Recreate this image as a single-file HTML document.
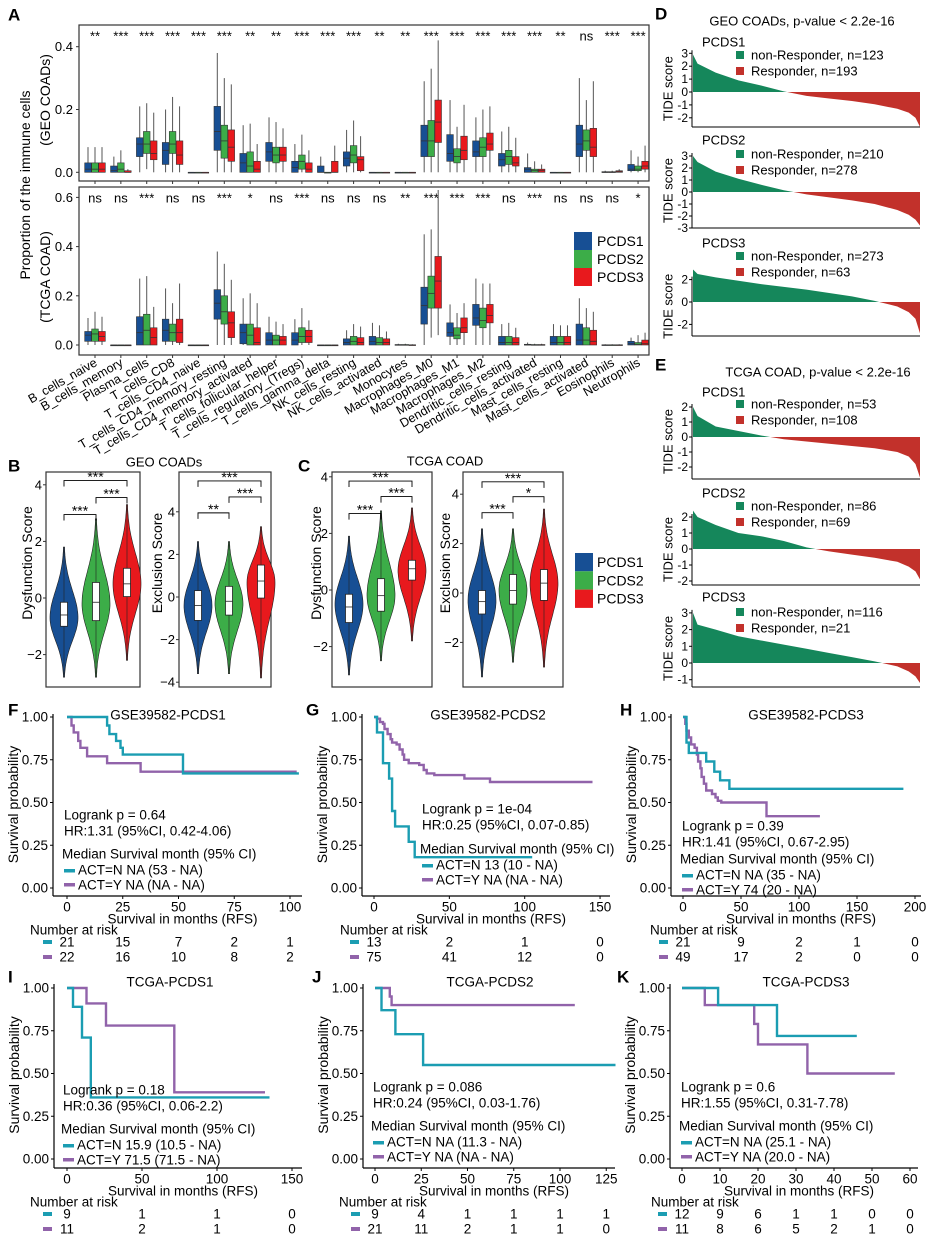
<!DOCTYPE html>
<html><head><meta charset="utf-8">
<style>
html,body{margin:0;padding:0;background:#fff;}
svg{display:block;font-family:"Liberation Sans",Arial,sans-serif;}
</style></head>
<body>
<svg id="fig" width="932" height="1238" viewBox="0 0 932 1238" xmlns="http://www.w3.org/2000/svg"></svg>
<script>
// ---------- Panel A data ----------
const cellTypes=["B_cells_naive","B_cells_memory","Plasma_cells","T_cells_CD8","T_cells_CD4_naive","T_cells_CD4_memory_resting","T_cells_CD4_memory_activated","T_cells_follicular_helper","T_cells_regulatory_(Tregs)","T_cells_gamma_delta","NK_cells_resting","NK_cells_activated","Monocytes","Macrophages_M0","Macrophages_M1","Macrophages_M2","Dendritic_cells_resting","Dendritic_cells_activated","Mast_cells_resting","Mast_cells_activated","Eosinophils","Neutrophils"];
const geoSig=["**","***","***","***","***","***","**","**","***","***","***","**","**","***","***","***","***","***","**","ns","***","***"];
const tcgaSig=["ns","ns","***","ns","ns","***","*","ns","***","ns","ns","ns","**","***","***","***","ns","***","ns","ns","ns","*"];
// [lower whisker, q1, median, q3, upper whisker]
const geoP1=[[0,0,.01,.03,.08],[0,0,.005,.02,.05],[0,.05,.09,.11,.21],[0,.025,.07,.095,.20],[0,0,0,0,0],[0,.07,.13,.21,.38],[0,0,.03,.06,.15],[0,.035,.065,.095,.175],[0,0,.015,.035,.09],[0,0,0,.02,.05],[0,.02,.045,.065,.135],[0,0,0,0,0],[0,0,0,0,0],[0,.05,.10,.15,.29],[0,.035,.06,.12,.23],[0,.05,.065,.10,.175],[0,.02,.04,.06,.13],[0,0,.01,.015,.06],[0,0,0,0,0],[0,.05,.09,.15,.30],[0,0,0,.002,.005],[0,.005,.01,.025,.07]];
const geoP2=[[0,0,.01,.03,.08],[0,0,.01,.03,.07],[.01,.06,.09,.13,.22],[0,.06,.09,.13,.24],[0,0,0,0,0],[0,.045,.10,.15,.30],[0,0,.02,.065,.155],[0,.03,.055,.08,.16],[0,.01,.035,.055,.12],[0,0,0,0,0],[0,.03,.055,.085,.165],[0,0,0,0,0],[0,0,0,0,0],[0,.05,.10,.165,.33],[0,.03,.05,.075,.145],[0,.05,.08,.11,.20],[0,.025,.05,.07,.145],[0,0,.005,.01,.035],[0,0,0,0,0],[0,.07,.10,.135,.23],[0,0,0,.002,.005],[0,.005,.01,.02,.05]];
const geoP3=[[0,0,.01,.03,.08],[0,0,0,.005,.01],[0,.04,.06,.10,.19],[0,.025,.055,.10,.21],[0,0,0,0,0],[0,.035,.08,.135,.28],[0,0,.01,.035,.09],[0,.035,.055,.08,.14],[0,0,.01,.03,.07],[0,0,0,.035,.085],[0,.005,.04,.05,.115],[0,0,0,0,0],[0,0,0,0,0],[0,.095,.16,.23,.42],[0,.04,.07,.115,.215],[0,.07,.09,.125,.21],[0,.02,.03,.05,.11],[0,0,.005,.01,.025],[0,0,0,0,0],[0,.05,.08,.14,.29],[0,0,.002,.005,.01],[0,.01,.02,.035,.085]];
const tcgaP1=[[0,.015,.04,.055,.11],[0,0,0,0,0],[0,0,.05,.115,.27],[0,.015,.06,.105,.23],[0,0,0,0,0],[0,.105,.17,.225,.38],[0,.005,.05,.085,.19],[0,0,.02,.05,.115],[0,0,.02,.05,.105],[0,0,0,0,0],[0,0,.01,.025,.06],[0,0,.015,.035,.09],[0,0,0,.002,.005],[0,.085,.16,.235,.45],[0,.035,.05,.09,.165],[0,.08,.11,.165,.27],[0,0,.01,.035,.085],[0,0,0,.003,.01],[0,0,.01,.035,.085],[0,0,.02,.085,.19],[0,0,0,.001,.003],[0,0,.005,.015,.03]];
const tcgaP2=[[0,.015,.045,.065,.135],[0,0,0,0,0],[0,0,.06,.125,.28],[0,.015,.05,.085,.17],[0,0,0,0,0],[0,.085,.135,.20,.33],[0,0,.04,.085,.21],[0,0,.02,.04,.095],[0,.01,.035,.07,.15],[0,0,0,0,0],[0,0,.015,.035,.085],[0,0,.01,.03,.08],[0,0,0,.002,.005],[.03,.15,.21,.28,.47],[0,.025,.04,.07,.13],[0,.07,.10,.15,.25],[0,0,.01,.035,.09],[0,0,0,.002,.005],[0,0,.01,.035,.08],[0,0,.02,.07,.15],[0,0,0,.001,.003],[0,0,.003,.01,.04]];
const tcgaP3=[[0,.015,.035,.055,.115],[0,0,0,0,0],[0,0,.03,.07,.155],[0,.01,.05,.105,.25],[0,0,0,0,0],[0,.03,.09,.135,.265],[0,0,.01,.07,.17],[0,0,.02,.035,.085],[0,.01,.035,.06,.10],[0,0,0,0,0],[0,0,.01,.03,.075],[0,0,.01,.025,.055],[0,0,0,.001,.003],[.04,.15,.26,.36,.63],[0,.05,.07,.11,.17],[0,.09,.12,.165,.25],[0,0,.01,.03,.07],[0,0,0,.002,.005],[0,0,.01,.035,.08],[0,0,.015,.06,.135],[0,0,0,.001,.003],[0,0,.005,.02,.05]];
const geoTicks=[0,0.2,0.4];
const tcgaTicks=[0,0.2,0.4,0.6];
const groupNames=["PCDS1","PCDS2","PCDS3"];
// ---------- Violin data: [min, max, peak, q1, median, q3] ----------
const geoDys=[[-2.8,1.8,-0.7,-1.0,-0.6,-0.15],[-2.8,2.8,-0.2,-0.8,-0.15,0.55],[-2.2,3.3,0.5,0.05,0.5,1.05]];
const geoExc=[[-3.6,2.6,-0.4,-1.1,-0.4,0.3],[-3.6,2.6,-0.3,-0.85,-0.2,0.5],[-3.8,3.3,0.7,-0.05,0.75,1.5]];
const tcgaDys=[[-3.0,1.9,-0.5,-1.15,-0.6,-0.15],[-2.5,2.8,-0.2,-0.75,-0.2,0.4],[-1.8,2.9,0.7,0.35,0.75,1.05]];
const tcgaExc=[[-3.4,2.6,-0.3,-0.85,-0.35,0.1],[-2.8,2.6,0.1,-0.45,0.1,0.75],[-3.0,3.4,0.4,-0.3,0.4,0.95]];
// brackets: [from, to, value height, label]
const geoDysSig=[[0,2,4.15,"***"],[1,2,3.55,"***"],[0,1,2.95,"***"]];
const geoExcSig=[[0,2,5.45,"***"],[1,2,4.7,"***"],[0,1,3.95,"**"]];
const tcgaDysSig=[[0,2,3.85,"***"],[1,2,3.3,"***"],[0,1,2.7,"***"]];
const tcgaExcSig=[[0,2,4.5,"***"],[1,2,3.9,"*"],[0,1,3.25,"***"]];
// ---------- TIDE waterfall data (score at sorted fraction) ----------
const tideFrac=[0,0.02,0.1,0.2,0.3,0.4,0.5,0.6,0.7,0.8,0.9,0.95,0.98,1];
const geo1Tide=[2.9,2.2,1.5,0.9,0.5,0.05,-0.3,-0.5,-0.7,-0.95,-1.3,-1.6,-2.0,-2.7];
const geo2Tide=[3.0,2.5,1.7,1.1,0.6,0.15,-0.2,-0.45,-0.7,-1.0,-1.5,-1.9,-2.3,-2.8];
const geo3Tide=[2.9,2.5,2.2,1.9,1.6,1.35,1.1,0.8,0.5,0.1,-0.4,-0.9,-1.5,-2.8];
const tcga1Tide=[2.0,1.4,0.7,0.4,0.1,-0.15,-0.3,-0.45,-0.6,-0.75,-1.0,-1.3,-1.8,-2.7];
const tcga2Tide=[2.4,2.0,1.5,1.0,0.8,0.5,0.1,-0.15,-0.35,-0.55,-0.8,-1.1,-1.4,-1.9];
const tcga3Tide=[3.0,2.3,2.0,1.6,1.35,1.1,0.85,0.6,0.35,0.1,-0.2,-0.5,-0.8,-1.2];
// ---------- KM data ----------
const F_tN=[0,18,19,22,24,25,52,104], F_sN=[1,.95,.9,.86,.82,.78,.67,.67];
const F_tY=[0,2,3,5,6,9,18,33,103], F_sY=[1,.95,.91,.86,.82,.77,.73,.68,.68];
const G_tN=[0,2,6,10,12,14,23,27,105], G_sN=[1,.91,.73,.64,.45,.36,.27,.18,.18];
const G_tY=[0,2,4,6,7,9,11,12,15,17,19,20,23,30,33,35,40,60,77,145], G_sY=[1,.99,.97,.96,.93,.9,.87,.85,.84,.81,.78,.75,.73,.72,.69,.67,.66,.64,.62,.62];
const H_tN=[0,3,5,20,27,32,40,190], H_sN=[1,.85,.79,.74,.68,.63,.58,.58];
const H_tY=[0,2,3,5,7,10,12,13,15,16,18,20,25,28,30,33,72,118], H_sY=[1,.96,.92,.88,.84,.82,.78,.74,.7,.65,.61,.57,.55,.53,.51,.5,.42,.42];
const I_tN=[0,4,10,15.9,135], I_sN=[1,.89,.71,.36,.36];
const I_tY=[0,13,26,71.5,132], I_sY=[1,.91,.78,.39,.39];
const J_tN=[0,3.5,11,26,130], J_sN=[1,.87,.73,.55,.55];
const J_tY=[0,8,9,108], J_sY=[1,.95,.9,.9];
const K_tN=[0,9.5,25,46], K_sN=[1,.9,.72,.72];
const K_tY=[0,6,19,20,33,56], K_sY=[1,.9,.79,.67,.5,.5];
const F_risk=[[21,15,7,2,1],[22,16,10,8,2]];
const G_risk=[[13,2,1,0],[75,41,12,0]];
const H_risk=[[21,9,2,1,0],[49,17,2,0,0]];
const I_risk=[[9,1,1,0],[11,2,1,0]];
const J_risk=[[9,4,1,1,1,1],[21,11,2,1,1,0]];
const K_risk=[[12,9,6,1,1,0,0],[11,8,6,5,2,1,0]];

const NS="http://www.w3.org/2000/svg";
const svg=document.getElementById('fig');
const COL=["#174f94","#3cad48","#e8191d"];
const TEAL="#1b9db2", PURP="#9163aa";
const GREEN="#15875b", RED="#c2312b";

function mk(tag,attrs,name,parent){
  const el=document.createElementNS(NS,tag);
  for(const k in attrs) el.setAttribute(k,attrs[k]);
  
  
  (parent||svg).appendChild(el);
  return el;
}
function txt(x,y,s,size,name,anchor,extra){
  const a={x:x,y:y,'font-size':size,'text-anchor':anchor||'start','dominant-baseline':'central',fill:'#000'};
  if(extra) for(const k in extra) a[k]=extra[k];
  const t=mk('text',a,name);
  t.textContent=s;
  return t;
}
function line(x1,y1,x2,y2,name,stroke,w){
  return mk('line',{x1:x1,y1:y1,x2:x2,y2:y2,stroke:stroke||'#000','stroke-width':w||1},name);
}
function vtxt(x,y,s,size,name){
  return txt(x,y,s,size,name,'middle',{transform:'rotate(-90 '+x+' '+y+')'});
}

// ================= PANEL A =================
txt(8,15,"A",17,"panel-label-a",'start',{'font-weight':'bold'});
const xCat=i=>95+i*25.86;
function boxPanel(top,bottom,zeroY,scale,sets,sig,ticks,prefix){
  mk('rect',{x:79,y:top,width:570,height:bottom-top,fill:'none',stroke:'#333','stroke-width':1.2},prefix+'-frame');
  const yv=v=>zeroY-v*scale;
  ticks.forEach(t=>{
    line(76,yv(t),79,yv(t),prefix+'-y-tick','#333');
    txt(73,yv(t),t.toFixed(1),13,prefix+'-y-tick-label','end');
  });
  cellTypes.forEach((c,i)=>{
    line(xCat(i),bottom,xCat(i),bottom+3,prefix+'-x-tick','#333');
    txt(xCat(i),top+11,sig[i],13,prefix+'-significance-'+i,'middle');
    sets.forEach((arr,g)=>{
      const d=arr[i], cx=xCat(i)+(g-1)*7;
      line(cx,yv(d[4]),cx,yv(d[0]),prefix+'-whisker','#555',1);
      mk('rect',{x:cx-3.3,y:yv(d[3]),width:6.6,height:Math.max(0.8,yv(d[1])-yv(d[3])),fill:COL[g],stroke:'#333','stroke-width':0.6},prefix+'-box-'+groupNames[g]);
      line(cx-3.3,yv(d[2]),cx+3.3,yv(d[2]),prefix+'-median','#333',0.8);
    });
  });
}
boxPanel(25,181,172.3,314,[geoP1,geoP2,geoP3],geoSig,geoTicks,'geo');
boxPanel(187,355,345,246,[tcgaP1,tcgaP2,tcgaP3],tcgaSig,tcgaTicks,'tcga');
vtxt(25,185,"Proportion of the immune cells",14,"y-axis-title-a");
vtxt(45,100,"(GEO COADs)",14,"y-axis-subtitle-geo");
vtxt(45,277,"(TCGA COAD)",14,"y-axis-subtitle-tcga");
cellTypes.forEach((c,i)=>{
  const x=xCat(i)+3, y=365;
  const t=txt(x,y,c,12.5,'x-label-'+c,'end',{transform:'rotate(-30 '+x+' '+y+')','dominant-baseline':'auto'});
});
groupNames.forEach((g,i)=>{
  mk('rect',{x:574,y:232+i*18,width:18,height:18,fill:COL[i]},'legend-key-a-'+g);
  txt(597,241+i*18,g,14,'legend-label-a-'+g);
});

// ================= PANELS B/C =================
txt(8,466,"B",17,"panel-label-b",'start',{'font-weight':'bold'});
txt(298,466,"C",17,"panel-label-c",'start',{'font-weight':'bold'});
txt(164,462,"GEO COADs",13,"title-b",'middle');
txt(445,461,"TCGA COAD",13,"title-c",'middle');
function violinPanel(x0,x1,zeroY,scale,ticks,data,centers,sigs,ylab,labX,prefix){
  mk('rect',{x:x0,y:472,width:x1-x0,height:215,fill:'none',stroke:'#333','stroke-width':1.2},prefix+'-frame');
  const yv=v=>zeroY-v*scale;
  ticks.forEach(t=>{
    line(x0-3,yv(t),x0,yv(t),prefix+'-y-tick','#333');
    txt(x0-4,yv(t),(t<0?'\u2212':'')+Math.abs(t),13,prefix+'-y-tick-label','end');
  });
  vtxt(labX,563,ylab,14,prefix+'-y-axis-title');
  data.forEach((d,g)=>{
    const cx=centers[g], W=14;
    const [mn,mx,pk,q1,md,q3]=d;
    let L=[],R=[];
    const N=60;
    for(let k=0;k<=N;k++){
      const v=mn+(mx-mn)*k/N;
      const s=v<pk?(pk-mn)/2.6:(mx-pk)/2.6;
      const w=Math.max(0.6,W*Math.exp(-0.5*Math.pow((v-pk)/s,2)));
      L.push((cx-w).toFixed(1)+','+yv(v).toFixed(1));
      R.unshift((cx+w).toFixed(1)+','+yv(v).toFixed(1));
    }
    mk('polygon',{points:L.concat(R).join(' '),fill:COL[g],stroke:'#222','stroke-width':0.6},prefix+'-violin-'+groupNames[g]);
    line(cx,yv(mx),cx,yv(mn),prefix+'-violin-line','#222',0.6);
    mk('rect',{x:cx-3.5,y:yv(q3),width:7,height:yv(q1)-yv(q3),fill:'#fff',stroke:'#222','stroke-width':0.8},prefix+'-boxplot-'+groupNames[g]);
    line(cx-3.5,yv(md),cx+3.5,yv(md),prefix+'-median','#222',0.8);
  });
  sigs.forEach(s=>{
    const xa=centers[s[0]], xb=centers[s[1]], y=yv(s[2]);
    mk('polyline',{points:xa+','+(y+6)+' '+xa+','+y+' '+xb+','+y+' '+xb+','+(y+6),fill:'none',stroke:'#000','stroke-width':0.9},prefix+'-bracket');
    txt((xa+xb)/2,y-4,s[3],14,prefix+'-bracket-label','middle');
  });
}
violinPanel(46,140,598,28.3,[-2,0,2,4],geoDys,[64,96,127],geoDysSig,"Dysfunction Score",27,'b-dysfunction');
violinPanel(179,271,597,21.3,[-4,-2,0,2,4],geoExc,[198,229,261],geoExcSig,"Exclusion Score",157,'b-exclusion');
violinPanel(332,432,590,28.3,[-2,0,2,4],tcgaDys,[349,381,412],tcgaDysSig,"Dysfunction Score",316,'c-dysfunction');
violinPanel(463,563,593,24.7,[-2,0,2,4],tcgaExc,[482,513,544],tcgaExcSig,"Exclusion Score",445,'c-exclusion');
groupNames.forEach((g,i)=>{
  mk('rect',{x:575,y:553+i*18.3,width:18,height:18.3,fill:COL[i]},'legend-key-bc-'+g);
  txt(597,562+i*18.3,g,14,'legend-label-bc-'+g);
});

// ================= PANELS D/E =================
txt(655,14,"D",17,"panel-label-d",'start',{'font-weight':'bold'});
txt(655,365,"E",17,"panel-label-e",'start',{'font-weight':'bold'});
txt(802,21,"GEO COADs, p-value < 2.2e-16",13,"title-d",'middle');
txt(818,372,"TCGA COAD, p-value < 2.2e-16",13,"title-e",'middle');
function tidePanel(name,labY,zeroY,scale,ticks,botY,vals,nonN,resN,legY,prefix){
  const x0=692,x1=920;
  txt(702,labY,name,13,prefix+'-subtitle');
  const xv=f=>x0+1+f*(x1-x0-1);
  const yv=v=>zeroY-v*scale;
  // split into positive/negative polygons
  let pos=[xv(0)+','+zeroY], neg=[];
  let cross=null;
  for(let k=0;k<tideFrac.length;k++){
    if(k>0 && vals[k-1]>=0 && vals[k]<0){
      cross=tideFrac[k-1]+(tideFrac[k]-tideFrac[k-1])*(vals[k-1]/(vals[k-1]-vals[k]));
    }
  }
  for(let k=0;k<tideFrac.length;k++){ if(vals[k]>=0) pos.push(xv(tideFrac[k])+','+yv(vals[k])); }
  pos.push(xv(cross)+','+zeroY);
  neg.push(xv(cross)+','+zeroY);
  for(let k=0;k<tideFrac.length;k++){ if(vals[k]<0) neg.push(xv(tideFrac[k])+','+yv(vals[k])); }
  neg.push(xv(1)+','+zeroY);
  mk('polygon',{points:pos.join(' '),fill:GREEN},prefix+'-non-responder-bars');
  mk('polygon',{points:neg.join(' '),fill:RED},prefix+'-responder-bars');
  const top=yv(ticks[ticks.length-1])-3;
  line(x0,top,x0,botY,prefix+'-y-axis','#000',1);
  line(x0,botY,x1,botY,prefix+'-x-axis','#000',1);
  ticks.forEach(t=>{
    line(x0-3,yv(t),x0,yv(t),prefix+'-y-tick','#000');
    txt(x0-4,yv(t),t,12,prefix+'-y-tick-label','end');
  });
  vtxt(668,(top+botY)/2,"TIDE score",13,prefix+'-y-axis-title');
  mk('rect',{x:736,y:legY-4,width:8,height:8,fill:GREEN},prefix+'-legend-key-non-responder');
  txt(751,legY,"non-Responder, n="+nonN,13,prefix+'-legend-non-responder');
  mk('rect',{x:736,y:legY+12,width:8,height:8,fill:RED},prefix+'-legend-key-responder');
  txt(751,legY+16,"Responder, n="+resN,13,prefix+'-legend-responder');
}
tidePanel("PCDS1",42,92,12.9,[-2,-1,0,1,2,3],127,geo1Tide,123,193,55,'d-pcds1');
tidePanel("PCDS2",140,192,12,[-3,-2,-1,0,1,2,3],228,geo2Tide,210,278,154,'d-pcds2');
tidePanel("PCDS3",243,302,11.2,[-2,0,2],336,geo3Tide,273,63,256,'d-pcds3');
tidePanel("PCDS1",392,437,15,[-2,-1,0,1,2],479,tcga1Tide,53,108,404,'e-pcds1');
tidePanel("PCDS2",493,549,16,[-2,-1,0,1,2],585,tcga2Tide,86,69,506,'e-pcds2');
tidePanel("PCDS3",597,663,16.7,[-1,0,1,2,3],687,tcga3Tide,116,21,612,'e-pcds3');

// ================= KM PANELS =================
function km(o){
  const p=o.prefix;
  txt(o.labX,o.top-7,o.label,17,p+'-panel-label','start',{'font-weight':'bold'});
  const xv=t=>o.x0+t*o.sx;
  const yv=s=>o.y0-s*171;
  txt(o.titleX,o.top-2,o.title,13.5,p+'-title','middle');
  line(o.ax,o.y1-3,o.ax,o.axisY,p+'-y-axis','#000',1.2);
  line(o.ax,o.axisY,o.axEnd,o.axisY,p+'-x-axis','#000',1.2);
  [0,0.25,0.5,0.75,1].forEach(s=>{
    line(o.ax-3,yv(s),o.ax,yv(s),p+'-y-tick','#000');
    txt(o.ax-5,yv(s),s.toFixed(2),13.5,p+'-y-tick-label','end');
  });
  o.xt.forEach(t=>{
    line(xv(t),o.axisY,xv(t),o.axisY+3,p+'-x-tick','#000');
    txt(xv(t),o.axisY+11,t,13.5,p+'-x-tick-label','middle');
  });
  vtxt(o.ax-40,(o.y1+o.y0)/2+2,"Survival probability",14,p+'-y-axis-title');
  txt((o.ax+o.axEnd)/2+5,o.axisY+23,"Survival in months (RFS)",13.5,p+'-x-axis-title','middle');
  [[o.tY,o.sY,PURP,'act-y'],[o.tN,o.sN,TEAL,'act-n']].forEach(c=>{
    let pts=[];
    for(let k=0;k<c[0].length;k++){
      if(k>0) pts.push(xv(c[0][k]).toFixed(1)+','+yv(c[1][k-1]).toFixed(1));
      pts.push(xv(c[0][k]).toFixed(1)+','+yv(c[1][k]).toFixed(1));
    }
    mk('polyline',{points:pts.join(' '),fill:'none',stroke:c[2],'stroke-width':2.4},p+'-curve-'+c[3]);
  });
  const a=o.ann;
  txt(a.x,a.y1,o.logrank,13.5,p+'-logrank');
  txt(a.x,a.y1+16,o.hr,13.5,p+'-hazard-ratio');
  txt(a.x-2,a.y2,"Median Survival month (95% CI)",13.5,p+'-median-header');
  mk('rect',{x:a.x,y:a.y2+15,width:11,height:3.5,fill:TEAL},p+'-legend-key-act-n');
  txt(a.x+14,a.y2+16,o.legN,13.5,p+'-legend-act-n');
  mk('rect',{x:a.x,y:a.y2+29,width:11,height:3.5,fill:PURP},p+'-legend-key-act-y');
  txt(a.x+14,a.y2+31,o.legY,13.5,p+'-legend-act-y');
  txt(o.riskX,o.axisY+34,"Number at risk",13.5,p+'-risk-title');
  o.risk.forEach((row,r)=>{
    const ry=o.axisY+46+r*15;
    mk('rect',{x:xv(0)-24,y:ry-2,width:9,height:4,fill:r===0?TEAL:PURP},p+'-risk-key-'+r);
    row.forEach((n,k)=>{
      txt(xv(o.xt[k]),ry,n,13.5,p+'-risk-count','middle');
    });
  });
}
km({prefix:'f',label:'F',labX:8,top:717,title:'GSE39582-PCDS1',titleX:168,x0:67,sx:2.23,y0:888,y1:717,ax:53,axEnd:302,axisY:896,xt:[0,25,50,75,100],
  tN:F_tN,sN:F_sN,tY:F_tY,sY:F_sY,ann:{x:64,y1:815,y2:854},logrank:'Logrank p = 0.64',hr:'HR:1.31 (95%CI, 0.42-4.06)',legN:'ACT=N NA (53 - NA)',legY:'ACT=Y NA (NA - NA)',riskX:30,risk:F_risk});
km({prefix:'g',label:'G',labX:306,top:717,title:'GSE39582-PCDS2',titleX:488,x0:374,sx:1.507,y0:888,y1:717,ax:362,axEnd:610,axisY:896,xt:[0,50,100,150],
  tN:G_tN,sN:G_sN,tY:G_tY,sY:G_sY,ann:{x:422,y1:809,y2:849},logrank:'Logrank p = 1e-04',hr:'HR:0.25 (95%CI, 0.07-0.85)',legN:'ACT=N 13 (10 - NA)',legY:'ACT=Y NA (NA - NA)',riskX:340,risk:G_risk});
km({prefix:'h',label:'H',labX:620,top:717,title:'GSE39582-PCDS3',titleX:806,x0:683,sx:1.16,y0:888,y1:717,ax:671,axEnd:921,axisY:896,xt:[0,50,100,150,200],
  tN:H_tN,sN:H_sN,tY:H_tY,sY:H_sY,ann:{x:682,y1:826,y2:859},logrank:'Logrank p = 0.39',hr:'HR:1.41 (95%CI, 0.67-2.95)',legN:'ACT=N NA (35 - NA)',legY:'ACT=Y 74 (20 - NA)',riskX:650,risk:H_risk});
km({prefix:'i',label:'I',labX:8,top:984,title:'TCGA-PCDS1',titleX:170,x0:67,sx:1.5,y0:1159,y1:987,ax:54,axEnd:302,axisY:1168,xt:[0,50,100,150],
  tN:I_tN,sN:I_sN,tY:I_tY,sY:I_sY,ann:{x:63,y1:1090,y2:1129},logrank:'Logrank p = 0.18',hr:'HR:0.36 (95%CI, 0.06-2.2)',legN:'ACT=N 15.9 (10.5 - NA)',legY:'ACT=Y 71.5 (71.5 - NA)',riskX:30,risk:I_risk});
km({prefix:'j',label:'J',labX:312,top:984,title:'TCGA-PCDS2',titleX:490,x0:375,sx:1.85,y0:1159,y1:987,ax:363,axEnd:615,axisY:1168,xt:[0,25,50,75,100,125],
  tN:J_tN,sN:J_sN,tY:J_tY,sY:J_sY,ann:{x:373,y1:1087,y2:1126},logrank:'Logrank p = 0.086',hr:'HR:0.24 (95%CI, 0.03-1.76)',legN:'ACT=N NA (11.3 - NA)',legY:'ACT=Y NA (NA - NA)',riskX:339,risk:J_risk});
km({prefix:'k',label:'K',labX:617,top:984,title:'TCGA-PCDS3',titleX:806,x0:682,sx:3.8,y0:1159,y1:987,ax:670,axEnd:918,axisY:1168,xt:[0,10,20,30,40,50,60],
  tN:K_tN,sN:K_sN,tY:K_tY,sY:K_sY,ann:{x:681,y1:1087,y2:1126},logrank:'Logrank p = 0.6',hr:'HR:1.55 (95%CI, 0.31-7.78)',legN:'ACT=N NA (25.1 - NA)',legY:'ACT=Y NA (20.0 - NA)',riskX:651,risk:K_risk});
</script>
</body></html>
